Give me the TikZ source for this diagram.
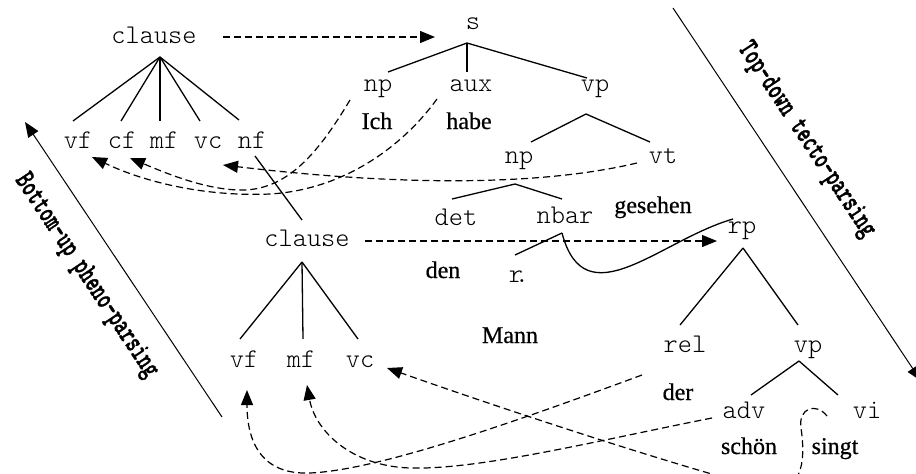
\documentclass[tikz,border=0pt]{standalone}
\usepackage{fontspec}
\newfontfamily\wordfont{Liberation Serif}[FakeBold=0.6]
\newfontfamily\labfont{lmmonolt10-bold.otf}[FakeBold=1.5]
\usetikzlibrary{arrows.meta,calc}
\begin{document}
\begin{tikzpicture}[x=1pt,y=-1pt,
  mono/.style={font=\fontsize{27}{30}\selectfont\ttfamily\fontseries{l}\selectfont, inner sep=0pt, anchor=base},
  word/.style={font=\fontsize{24}{27}\selectfont\wordfont, inner sep=0pt, anchor=base},
  edge/.style={line width=1.3pt},
  move/.style={line width=1.2pt, dash pattern=on 7pt off 4pt, -{Triangle[length=15pt,width=12pt]}},
  big/.style={line width=1pt, -{Triangle[length=15pt,width=12pt]}},
  lab/.style={font=\fontsize{30}{32}\selectfont\labfont, inner sep=0pt, rotate=-56.3}]
\useasboundingbox (0,0) rectangle (916,474);
\fill[white] (0,0) rectangle (916,474);
\clip (0,0) rectangle (916,474);

% nodes
\node[mono] (clauseT) at (154,43) {clause};
\node[mono] (vfT) at (78,148) {vf};
\node[mono] (cfT) at (122,148) {cf};
\node[mono] (mfT) at (164,148) {mf};
\node[mono] (vcT) at (208,148) {vc};
\node[mono] (nfT) at (252,148) {nf};
\node[mono] (s) at (473,29) {s};
\node[mono] (np1) at (378,91) {np};
\node[mono] (aux) at (471,91) {aux};
\node[mono] (vp1) at (595,91) {vp};
\node[word] (ich) at (377,129) {Ich};
\node[word] (habe) at (469,129) {habe};
\node[mono] (np2) at (519,163) {np};
\node[mono] (vt) at (663,163) {vt};
\node[mono] (det) at (456,225) {det};
\node[mono] (nbar) at (565,223) {nbar};
\node[word] (gesehen) at (653,213) {gesehen};
\node[mono] (clauseB) at (307,246) {clause};
\node[word] (den) at (443,278) {den};
\node[mono] (nfrag) at (519,282) {r\kern-0.3em.};
\node[mono] (rp) at (742,233) {rp};
\node[word] (mann) at (510,343) {Mann};
\node[mono] (vfB) at (244,367) {vf};
\node[mono] (mfB) at (301,367) {mf};
\node[mono] (vcB) at (360,367) {vc};
\node[mono] (rel) at (685,352) {rel};
\node[mono] (vp2) at (808,352) {vp};
\node[word] (der) at (678,400) {der};
\node[mono] (adv) at (744,418) {adv};
\node[mono] (vi) at (867,418) {vi};
\node[word] (schoen) at (749,454) {schön};
\node[word] (singt) at (835,454) {singt};

% tree edges
\foreach \c/\d in {vfT/-5, cfT/-1, mfT/-4, vcT/-8}
  \draw[edge] ($(clauseT.base)+(6,14)$) -- ($(\c.base)+(\d,-27)$);
\draw[edge] ($(clauseT.base)+(6,14)$) -- ($(nfT.base)+(-13,-28)$);
\draw[edge] ($(s.base)+(-6,14)$) -- ($(np1.base)+(10,-19)$);
\draw[edge] ($(s.base)+(-6,14)$) -- ($(aux.base)+(-4,-19)$);
\draw[edge] ($(s.base)+(-6,14)$) -- ($(vp1.base)+(-8,-13)$);
\draw[edge] ($(vp1.base)+(-9,23)$) -- ($(np2.base)+(12,-21)$);
\draw[edge] ($(vp1.base)+(-9,23)$) -- ($(vt.base)+(-13,-21)$);
\draw[edge] ($(np2.base)+(-4,21)$) -- ($(det.base)+(-4,-26)$);
\draw[edge] ($(np2.base)+(-4,21)$) -- ($(nbar.base)+(-3,-24)$);
\draw[edge] ($(nbar.base)+(-3,10)$) -- ($(nfrag.base)+(-4,-27)$);
\draw[edge] ($(nbar.base)+(-3,10)$) .. controls (585,320) and (660,240) .. ($(rp.base)+(-9,-14)$);
\draw[edge] ($(nfT.base)+(3,8)$) -- ($(clauseB.base)+(-5,-26)$);
\draw[edge] ($(clauseB.base)+(-5,16)$) -- ($(vfB.base)+(-4,-28)$);
\draw[edge] ($(clauseB.base)+(-5,16)$) -- ($(mfB.base)+(2,-28)$);
\draw[edge] ($(clauseB.base)+(-5,16)$) -- ($(vcB.base)+(-2,-28)$);
\draw[edge] ($(rp.base)+(1,15)$) -- ($(rel.base)+(-5,-27)$);
\draw[edge] ($(rp.base)+(1,15)$) -- ($(vp2.base)+(-10,-27)$);
\draw[edge] ($(vp2.base)+(-9,9)$) -- ($(adv.base)+(7,-23)$);
\draw[edge] ($(vp2.base)+(-9,9)$) -- ($(vi.base)+(-29,-23)$);

% dashed movement arrows
\draw[move] ($(clauseT.base)+(69,-6)$) -- ($(s.base)+(-38,8)$);
\draw[move] ($(clauseB.base)+(58,-5)$) -- ($(rp.base)+(-25,8)$);
\draw[move] ($(aux.base)+(-34,8)$) .. controls (400,150) and (340,190) .. (270,194)
  .. controls (200,197) and (140,180) .. ($(vfT.base)+(14,9)$);
\draw[move] ($(np1.base)+(-28,9)$) .. controls (320,150) and (290,188) .. (245,190)
  .. controls (210,191) and (170,175) .. ($(cfT.base)+(8,10)$);
\draw[move] ($(vt.base)+(-26,0)$) .. controls (540,186) and (400,186) .. ($(vcT.base)+(15,17)$);
\draw[move] ($(rel.base)+(-43,23)$) .. controls (520,420) and (380,470) .. (310,473)
  .. controls (260,475) and (247,440) .. ($(vfB.base)+(3,23)$);
\draw[move] ($(adv.base)+(-32,0)$) .. controls (600,440) and (480,470) .. (410,468)
  .. controls (350,466) and (315,430) .. ($(mfB.base)+(6,18)$);
\draw[move] ($(vi.base)+(-40,-2)$) .. controls (816,402) and (798,408) .. (801,428)
  .. controls (805,455) and (805,492) .. (770,490)
  .. controls (690,470) and (520,415) .. ($(vcB.base)+(27,1)$);

% big arrows with labels
\coordinate (bl0) at (222,417);
\coordinate (bl1) at (25,122);
\draw[big] (bl0) -- (bl1);
\node[lab] (bu) at (86,276) {\scalebox{0.66}[1]{Bottom-up pheno-parsing}};
\coordinate (tr0) at (673,8);
\coordinate (tr1) at (921,381);
\draw[big] (tr0) -- (tr1);
\node[lab] (td) at (806,140) {\scalebox{0.66}[1]{Top-down tecto-parsing}};
\end{tikzpicture}
\end{document}
